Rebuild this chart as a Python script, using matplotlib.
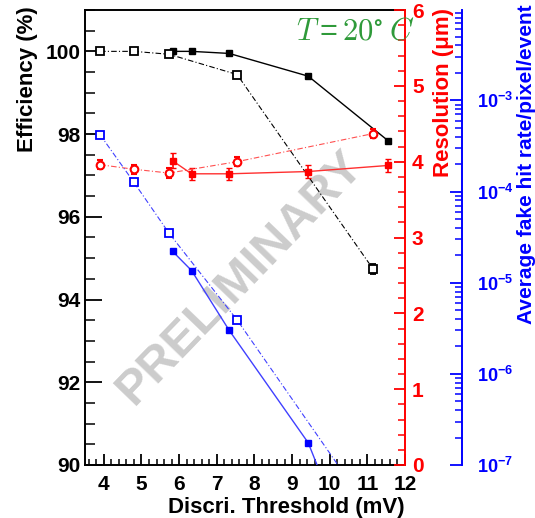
import matplotlib
matplotlib.use('Agg')
import matplotlib.pyplot as plt
from matplotlib.ticker import MultipleLocator, LogLocator, FuncFormatter, NullFormatter
import numpy as np

plt.rcParams['font.family'] = ['Liberation Sans', 'DejaVu Sans']
plt.rcParams['font.weight'] = 'bold'
plt.rcParams['mathtext.fontset'] = 'custom'
plt.rcParams['mathtext.rm'] = 'Liberation Sans:bold'
plt.rcParams['mathtext.bf'] = 'Liberation Sans:bold'
plt.rcParams['mathtext.it'] = 'Liberation Sans:bold:italic'
plt.rcParams['mathtext.default'] = 'regular'

# ---------------- data ----------------
thr_open = [3.9, 4.8, 5.73, 7.54, 11.15]
thr_filled = [5.83, 6.33, 7.33, 9.43, 11.55]

eff_open = [100.0, 100.0, 99.93, 99.44, 94.74]
eff_open_err = [0.02, 0.02, 0.03, 0.03, 0.12]
eff_filled = [100.0, 100.0, 99.95, 99.4, 97.84]

res_open = [3.96, 3.90, 3.85, 4.00, 4.37]
res_open_err = [0.06, 0.06, 0.06, 0.06, 0.06]
res_filled = [4.01, 3.84, 3.84, 3.87, 3.95]
res_filled_err = [0.10, 0.08, 0.08, 0.08, 0.08]

fake_open = [4.2e-4, 1.26e-4, 3.5e-5, 3.9e-6, 2.8e-8]
fake_filled = [2.2e-5, 1.36e-5, 3.0e-6, 1.75e-7, 1.1e-9]

x_ticks = [4, 5, 6, 7, 8, 9, 10, 11, 12]

W, H = 535, 518
fig = plt.figure(figsize=(W / 100, H / 100), dpi=100)
L, R, T, B = 85, 405, 10, 465
ax = fig.add_axes([L / W, 1 - B / H, (R - L) / W, (B - T) / H])

# ---------- efficiency axis ----------
ax.set_xlim(3.5, 12)
ax.set_ylim(90, 101)
ax.set_xticks(x_ticks)
ax.xaxis.set_minor_locator(MultipleLocator(0.2))
ax.yaxis.set_major_locator(MultipleLocator(2))
ax.yaxis.set_minor_locator(MultipleLocator(0.5))
ax.tick_params(axis='x', which='major', direction='in', length=8, width=1.3, labelsize=15, pad=7, top=False)
ax.tick_params(axis='x', which='minor', direction='in', length=4, width=1.1, top=False)
ax.tick_params(axis='y', which='major', direction='in', length=12, width=1.3, labelsize=15, pad=3, right=False)
ax.tick_params(axis='y', which='minor', direction='in', length=7, width=1.1, right=False)
for s in ['left', 'bottom', 'top']:
    ax.spines[s].set_linewidth(1.4)
ax.spines['right'].set_visible(False)

ax.text(240 / W, 1 - 278 / H, 'PRELIMINARY', transform=fig.transFigure, rotation=46,
        fontsize=35, color='0.80', ha='center', va='center', fontweight='bold', zorder=0.5)

dashdot = (0, (5, 2, 1, 2))
ax.errorbar(thr_open, eff_open, yerr=eff_open_err, color='black', ls=dashdot, lw=0.8,
            marker='s', mfc='white', mec='black', ms=5.5, mew=1.3, capsize=2, elinewidth=1)
ax.plot(thr_filled, eff_filled, color='black', ls='-', lw=1.0,
        marker='s', mfc='black', mec='black', ms=5)

# ---------- resolution axis ----------
ax2 = ax.twinx()
ax2.set_ylim(0, 6)
for s in ['left', 'top', 'bottom']:
    ax2.spines[s].set_visible(False)
ax2.spines['right'].set_color('red')
ax2.spines['right'].set_linewidth(1.4)
ax2.yaxis.set_major_locator(MultipleLocator(1))
ax2.yaxis.set_minor_locator(MultipleLocator(0.2))
ax2.tick_params(axis='y', which='major', direction='in', length=8, width=1.3, colors='red', labelsize=15, pad=5)
ax2.tick_params(axis='y', which='minor', direction='in', length=5, width=1.1, colors='red')
ax2.errorbar(thr_open, res_open, yerr=res_open_err, color='#ff5050', ls=dashdot, lw=0.8,
             marker='o', mfc='white', mec='red', ms=5.5, mew=1.5, capsize=2, ecolor='red', elinewidth=1)
ax2.errorbar(thr_filled, res_filled, yerr=res_filled_err, color='#ff3030', ls='-', lw=1.0,
             marker='s', mfc='red', mec='red', ms=4.5, capsize=2.5, ecolor='red', elinewidth=1.2)

# ---------- fake hit rate axis ----------
ax3 = ax.twinx()
ax3.set_yscale('log')
ax3.set_ylim(1e-7, 9.8e-3)
for s in ['left', 'top', 'bottom']:
    ax3.spines[s].set_visible(False)
ax3.spines['right'].set_position(('axes', (462 - L) / (R - L)))
ax3.spines['right'].set_color('blue')
ax3.spines['right'].set_linewidth(1.4)
ax3.yaxis.set_major_locator(LogLocator(base=10, numticks=12))
ax3.yaxis.set_minor_locator(LogLocator(base=10, subs=np.arange(2, 10), numticks=12))
ax3.yaxis.set_major_formatter(FuncFormatter(lambda v, p: r'$10^{%d}$' % int(round(np.log10(v)))))
ax3.yaxis.set_minor_formatter(NullFormatter())
ax3.tick_params(axis='y', which='major', direction='in', length=9, width=1.3, colors='blue', labelsize=13, pad=11)
ax3.tick_params(axis='y', which='minor', direction='in', length=5, width=1.1, colors='blue')
ax3.plot(thr_open, fake_open, color='#4040ff', ls=dashdot, lw=0.8,
         marker='s', mfc='white', mec='blue', ms=5.5, mew=1.3)
ax3.plot(thr_filled, fake_filled, color='#4040ff', ls='-', lw=1.0,
         marker='s', mfc='blue', mec='blue', ms=5)

# ---------- labels ----------
fig.text(28 / W, 1 - 6 / H, 'Efficiency (%)', rotation=90, ha='center', va='top', fontsize=16, color='black')
fig.text(443 / W, 1 - 8 / H, 'Resolution (μm)', rotation=90, ha='center', va='top', fontsize=16, color='red')
fig.text(527 / W, 1 - 4 / H, 'Average fake hit rate/pixel/event', rotation=90, ha='center', va='top',
         fontsize=15, color='blue')
fig.text(405 / W, 1 - 507 / H, 'Discri. Threshold (mV)', ha='right', va='center', fontsize=16, color='black')
fig.text(356 / W, 1 - 31 / H, r'$\mathit{T}=\mathrm{20}^{\circ}\;\mathit{C}$', math_fontfamily='cm',
         fontsize=22, color='#2f9a3a', ha='center', va='center', fontweight='normal')

fig.savefig('out.png', dpi=100)
